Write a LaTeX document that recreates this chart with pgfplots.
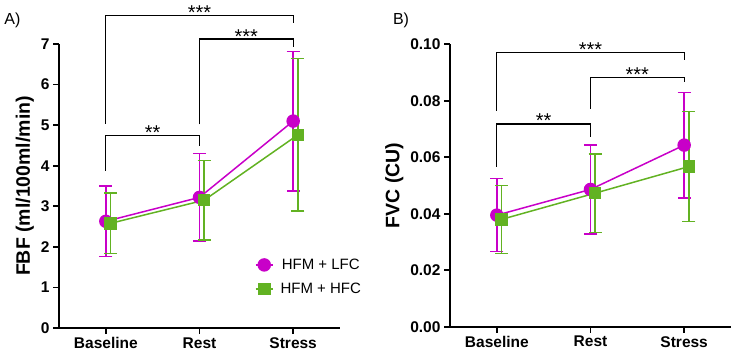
\documentclass[border=0pt]{standalone}
\usepackage{pgfplots}
\pgfplotsset{compat=1.18}
\usepackage{fontspec}
\setmainfont{Liberation Sans}
\definecolor{lfc}{RGB}{200,0,200}
\definecolor{hfc}{RGB}{98,178,34}

\pgfplotsset{
  panel/.style={
    scale only axis, width=281pt,
    axis lines=left, axis line style={-, line width=2.3pt},
    tick align=outside, major tick length=6pt,
    tick style={line width=1.8pt, black},
    xmin=-0.5, xmax=2.5, xtick={0,1,2},
    xticklabels={Baseline,Rest,Stress},
    ymin=0, clip=false,
    /pgf/number format/assume math mode=true,
    tick label style={font=\bfseries\fontsize{15.5}{18}\selectfont},
    ylabel style={font=\bfseries\fontsize{19.5}{22}\selectfont},
    every axis plot/.append style={line width=1.5pt},
    error bars/y dir=both, error bars/y explicit,
    error bars/error bar style={line width=1.4pt},
    error bars/error mark options={rotate=90, mark size=6.5pt, line width=1.4pt},
    legend style={draw=none, fill=none, font=\fontsize{15}{18}\selectfont,
      row sep=8pt, column sep=5pt},
  },
  lfcplot/.style={color=lfc, mark=*, mark size=6pt},
  hfcplot/.style={color=hfc, mark=square*, mark size=5.5pt},
}
\tikzset{
  br/.style={black, line width=1.3pt},
  stars/.style={font=\fontsize{20}{20}\selectfont, anchor=base, yshift=-4pt},
}

\begin{document}
\begin{tikzpicture}[x=1pt,y=1pt]
\useasboundingbox (0,0) rectangle (735,354);

% panel A
\begin{axis}[panel, at={(59pt,26pt)}, anchor=south west, height=284pt,
  ymax=7, ytick={0,1,...,7}, ylabel={FBF (ml/100ml/min)},
  legend style={at={(0.686,0.258)}, anchor=north west}]
\addplot[lfcplot] coordinates {(0,2.63)+-(0,0.87) (1,3.22)+-(0,1.08) (2,5.10)+-(0,1.72)};
\addplot[hfcplot] coordinates {(0.05,2.58)+-(0,0.75) (1.05,3.15)+-(0,0.98) (2.05,4.76)+-(0,1.88)};
\legend{HFM + LFC, HFM + HFC}
\draw[br] (axis cs:0,3.87) -- (axis cs:0,4.74) -- (axis cs:1,4.74) -- (axis cs:1,4.49);
\node[stars] at (axis cs:0.5,4.74) {**};
\draw[br] (axis cs:1,5.02) -- (axis cs:1,7.12) -- (axis cs:2,7.12) -- (axis cs:2,6.93);
\node[stars] at (axis cs:1.5,7.12) {***};
\draw[br] (axis cs:0,5.04) -- (axis cs:0,7.71) -- (axis cs:2,7.71) -- (axis cs:2,7.53);
\node[stars] at (axis cs:1,7.71) {***};
\end{axis}

% panel B
\begin{axis}[panel, at={(450pt,27.3pt)}, anchor=south west, height=282.4pt,
  ymax=0.1, ytick={0,0.02,...,0.1}, ylabel={FVC (CU)},
  yticklabel style={/pgf/number format/.cd, fixed, fixed zerofill, precision=2},
  scaled y ticks=false]
\addplot[lfcplot] coordinates {(0,0.0395)+-(0,0.0129) (1,0.0486)+-(0,0.0158) (2,0.0643)+-(0,0.0187)};
\addplot[hfcplot] coordinates {(0.05,0.0380)+-(0,0.0120) (1.05,0.0473)+-(0,0.0139) (2.05,0.0567)+-(0,0.0194)};
\draw[br] (axis cs:0,0.0567) -- (axis cs:0,0.0718) -- (axis cs:1,0.0718) -- (axis cs:1,0.0673);
\node[stars] at (axis cs:0.5,0.0718) {**};
\draw[br] (axis cs:1,0.0771) -- (axis cs:1,0.0882) -- (axis cs:2,0.0882) -- (axis cs:2,0.0868);
\node[stars] at (axis cs:1.5,0.0882) {***};
\draw[br] (axis cs:0,0.0764) -- (axis cs:0,0.097) -- (axis cs:2,0.097) -- (axis cs:2,0.0944);
\node[stars] at (axis cs:1,0.097) {***};
\end{axis}

\node[font=\fontsize{16}{18}\selectfont] at (12.5,334) {A)};
\node[font=\fontsize{16}{18}\selectfont] at (401,334) {B)};
\end{tikzpicture}
\end{document}
